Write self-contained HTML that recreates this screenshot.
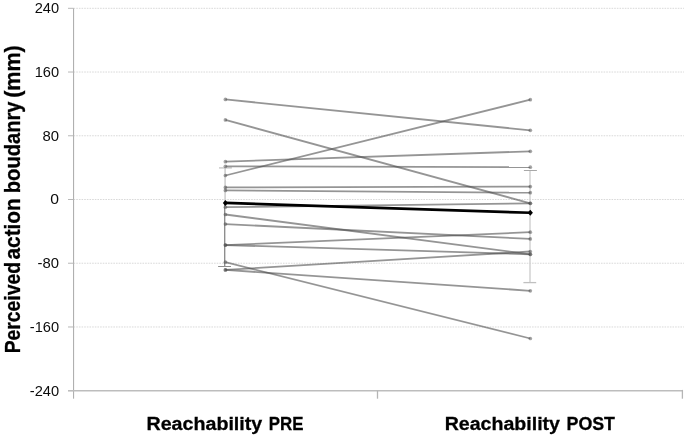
<!DOCTYPE html>
<html lang="en"><head><meta charset="utf-8"><title>Perceived action boundary</title>
<style>html,body{margin:0;padding:0;background:#fff}svg{display:block}text{font-family:"Liberation Sans",sans-serif;fill:#0c0c0c;font-kerning:none}.b{font-weight:bold;fill:#000;stroke:#000;stroke-width:0.3px}</style></head><body>
<svg width="685" height="438" viewBox="0 0 685 438">
<rect width="685" height="438" fill="#fff"/>
<g stroke="#d9d9d9" stroke-width="1" stroke-dasharray="1.6 1.05" fill="none">
<line x1="73.6" y1="8.30" x2="684.0" y2="8.30"/>
<line x1="73.6" y1="72.03" x2="684.0" y2="72.03"/>
<line x1="73.6" y1="135.77" x2="684.0" y2="135.77"/>
<line x1="73.6" y1="199.50" x2="684.0" y2="199.50"/>
<line x1="73.6" y1="263.23" x2="684.0" y2="263.23"/>
<line x1="73.6" y1="326.97" x2="684.0" y2="326.97"/>
</g>
<g fill="none">
<path d="M225.1 167.9V266.5" stroke="#d2d2d2" stroke-width="1.7"/>
<path d="M219 167.9H231.9" stroke="#c4c4c4" stroke-width="1.3"/>
<path d="M224.5 203V266.5M218.1 266.5H231" stroke="#8e8e8e" stroke-width="1"/>
<path d="M530 170.5V282.6" stroke="#d2d2d2" stroke-width="1.5"/>
<path d="M523.9 170.5H536.9" stroke="#a8a8a8" stroke-width="1"/>
<path d="M523.4 282.6H536.2" stroke="#c0c0c0" stroke-width="1.3"/>
</g>
<g stroke="#a8a8a8" stroke-width="1" fill="none">
<line x1="73.6" y1="8.3" x2="73.6" y2="398.7"/>
</g>
<g stroke="#b8b8b8" stroke-width="1" fill="none">
<line x1="68.0" y1="8.30" x2="73.6" y2="8.30"/>
<line x1="68.0" y1="72.03" x2="73.6" y2="72.03"/>
<line x1="68.0" y1="135.77" x2="73.6" y2="135.77"/>
<line x1="68.0" y1="199.50" x2="73.6" y2="199.50"/>
<line x1="68.0" y1="263.23" x2="73.6" y2="263.23"/>
<line x1="68.0" y1="326.97" x2="73.6" y2="326.97"/>
<line x1="68.0" y1="390.70" x2="73.6" y2="390.70"/>
</g>
<g stroke="#bdbdbd" stroke-width="1.6" fill="none">
<line x1="68.0" y1="390.7" x2="682.4" y2="390.7"/>
</g>
<g stroke="#b5b5b5" stroke-width="1.3" fill="none">
<line x1="377.5" y1="390.7" x2="377.5" y2="398.7"/>
<line x1="682.4" y1="389.9" x2="682.4" y2="398.7"/>
</g>
<g stroke="#4e4e4e" stroke-opacity="0.6" stroke-width="1.8" stroke-linecap="butt" fill="none">
<line x1="225.4" y1="99.4" x2="530.3" y2="130.3"/>
<line x1="225.4" y1="119.9" x2="530.3" y2="203.3"/>
<line x1="225.4" y1="161.7" x2="530.3" y2="151.3"/>
<line x1="225.4" y1="166.3" x2="530.3" y2="167.2"/>
<line x1="225.4" y1="175.5" x2="530.3" y2="99.7"/>
<line x1="225.4" y1="187.4" x2="530.3" y2="186.6"/>
<line x1="225.4" y1="190.4" x2="530.3" y2="192.7"/>
<line x1="225.4" y1="207.2" x2="530.3" y2="203.3"/>
<line x1="225.4" y1="214.5" x2="530.3" y2="254.3"/>
<line x1="225.4" y1="224.1" x2="530.3" y2="238.9"/>
<line x1="225.4" y1="245.1" x2="530.3" y2="232.2"/>
<line x1="225.4" y1="245.1" x2="530.3" y2="254.3"/>
<line x1="225.4" y1="262.2" x2="530.3" y2="338.5"/>
<line x1="225.4" y1="269.9" x2="530.3" y2="251.5"/>
<line x1="225.4" y1="269.9" x2="530.3" y2="290.8"/>
</g>
<g fill="#4e4e4e" fill-opacity="0.5">
<circle cx="225.4" cy="99.4" r="1.85"/><circle cx="530.3" cy="130.3" r="1.85"/>
<circle cx="225.4" cy="119.9" r="1.85"/><circle cx="530.3" cy="203.3" r="1.85"/>
<circle cx="225.4" cy="161.7" r="1.85"/><circle cx="530.3" cy="151.3" r="1.85"/>
<circle cx="225.4" cy="166.3" r="1.85"/><circle cx="530.3" cy="167.2" r="1.85"/>
<circle cx="225.4" cy="175.5" r="1.85"/><circle cx="530.3" cy="99.7" r="1.85"/>
<circle cx="225.4" cy="187.4" r="1.85"/><circle cx="530.3" cy="186.6" r="1.85"/>
<circle cx="225.4" cy="190.4" r="1.85"/><circle cx="530.3" cy="192.7" r="1.85"/>
<circle cx="225.4" cy="207.2" r="1.85"/><circle cx="530.3" cy="203.3" r="1.85"/>
<circle cx="225.4" cy="214.5" r="1.85"/><circle cx="530.3" cy="254.3" r="1.85"/>
<circle cx="225.4" cy="224.1" r="1.85"/><circle cx="530.3" cy="238.9" r="1.85"/>
<circle cx="225.4" cy="245.1" r="1.85"/><circle cx="530.3" cy="232.2" r="1.85"/>
<circle cx="225.4" cy="245.1" r="1.85"/><circle cx="530.3" cy="254.3" r="1.85"/>
<circle cx="225.4" cy="262.2" r="1.85"/><circle cx="530.3" cy="338.5" r="1.85"/>
<circle cx="225.4" cy="269.9" r="1.85"/><circle cx="530.3" cy="251.5" r="1.85"/>
<circle cx="225.4" cy="269.9" r="1.85"/><circle cx="530.3" cy="290.8" r="1.85"/>
</g>
<line x1="225.4" y1="202.9" x2="530.3" y2="212.8" stroke="#000" stroke-width="2.6"/>
<path d="M222.8 202.9L225.4 199.9L228.0 202.9L225.4 205.9Z" fill="#000"/>
<path d="M527.6999999999999 212.8L530.3 209.8L532.9 212.8L530.3 215.8Z" fill="#000"/>
<g font-size="14.6">
<text x="34.66" y="13.10" textLength="24.41" lengthAdjust="spacingAndGlyphs">240</text>
<text x="34.69" y="76.83" textLength="24.38" lengthAdjust="spacingAndGlyphs">160</text>
<text x="42.55" y="140.57" textLength="16.53" lengthAdjust="spacingAndGlyphs">80</text>
<text x="50.39" y="204.30" textLength="8.73" lengthAdjust="spacingAndGlyphs">0</text>
<text x="37.64" y="268.03" textLength="21.44" lengthAdjust="spacingAndGlyphs">-80</text>
<text x="29.75" y="331.77" textLength="29.32" lengthAdjust="spacingAndGlyphs">-160</text>
<text x="29.75" y="395.50" textLength="29.32" lengthAdjust="spacingAndGlyphs">-240</text>
</g>
<g font-size="19.2" font-weight="bold">
<text class="b" x="146.48" y="429.5" textLength="115.82" lengthAdjust="spacingAndGlyphs">Reachability</text>
<text class="b" x="268.77" y="429.5" textLength="34.69" lengthAdjust="spacingAndGlyphs">PRE</text>
<text class="b" x="444.69" y="429.5" textLength="115.31" lengthAdjust="spacingAndGlyphs">Reachability</text>
<text class="b" x="566.51" y="429.5" textLength="48.48" lengthAdjust="spacingAndGlyphs">POST</text>
</g>
<g font-size="21.2" font-weight="bold" transform="translate(20.1 0) rotate(-90)">
<text class="b" x="-353.29" y="0" textLength="91.27" lengthAdjust="spacingAndGlyphs">Perceived</text>
<text class="b" x="-259.51" y="0" textLength="61.30" lengthAdjust="spacingAndGlyphs">action</text>
<text class="b" x="-193.23" y="0" textLength="91.74" lengthAdjust="spacingAndGlyphs">boudanry</text>
<text class="b" x="-97.87" y="0" textLength="52.65" lengthAdjust="spacingAndGlyphs">(mm)</text>
</g>
</svg></body></html>
